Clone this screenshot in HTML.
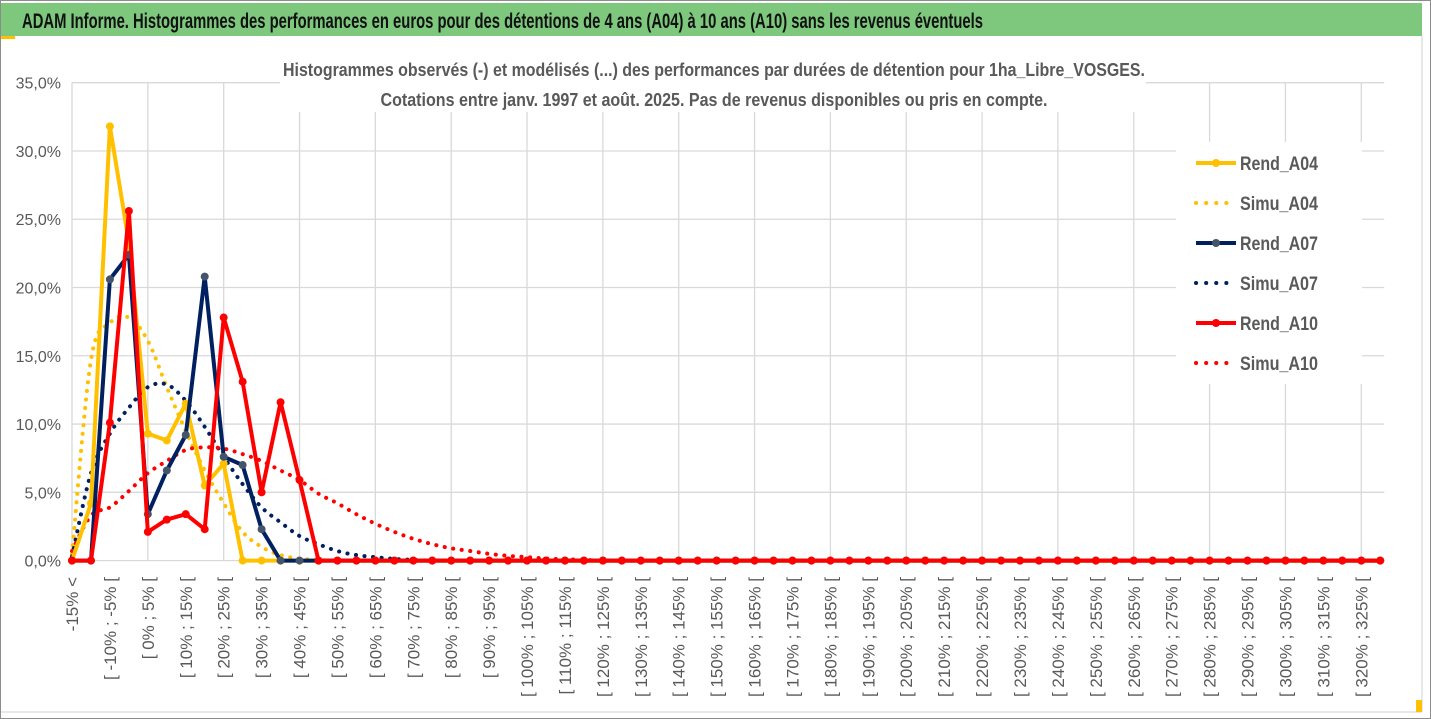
<!DOCTYPE html>
<html><head><meta charset="utf-8"><style>
html,body{margin:0;padding:0;background:#fff;}
svg{display:block;font-family:"Liberation Sans Narrow","Liberation Sans",sans-serif;}
</style></head><body>
<svg id="chart" width="1431" height="719" viewBox="0 0 1431 719">
  <rect x="0.5" y="0.5" width="1430" height="718" fill="#fff" stroke="#8c8c8c"/>
  <rect x="1" y="3" width="1421" height="33" fill="#7dc87d"/>
  <rect x="1" y="36" width="14" height="3" fill="#ffc000"/>
  <line x1="1422" y1="36" x2="1422" y2="712" stroke="#d0d0d0"/>
  <line x1="1" y1="712" x2="1422" y2="712" stroke="#d0d0d0"/>
  <rect x="1416" y="700" width="6" height="12" fill="#ffc000"/>
  <text x="22" y="28" font-size="21" font-weight="bold" fill="#111" textLength="961" lengthAdjust="spacingAndGlyphs">ADAM Informe. Histogrammes des performances en euros pour des détentions de 4 ans (A04) à 10 ans (A10) sans les revenus éventuels</text>
  <g id="grid"></g>
  <g id="yaxis"></g>
  <g id="xaxis"></g>
  <g id="series"></g>
  <rect x="280" y="56" width="866" height="56" fill="#fff"/>
  <text x="714" y="76" text-anchor="middle" font-size="18" font-weight="bold" fill="#595959" textLength="862" lengthAdjust="spacingAndGlyphs">Histogrammes observés (-) et modélisés (...) des performances par durées de détention pour 1ha_Libre_VOSGES.</text>
  <text x="714" y="106" text-anchor="middle" font-size="18" font-weight="bold" fill="#595959" textLength="667" lengthAdjust="spacingAndGlyphs">Cotations entre janv. 1997 et août. 2025. Pas de revenus disponibles ou pris en compte.</text>
  <g id="legend"></g>
</svg>
<script>
const categories = ["-15% <"];
for (let a = -15; a < 330; a += 5) categories.push("[ " + a + "% ; " + (a + 5) + "% [");
const yTicks = [0,5,10,15,20,25,30,35];
const yTickLabels = ["0,0%","5,0%","10,0%","15,0%","20,0%","25,0%","30,0%","35,0%"];
const rendA04 = [0,4.2,31.8,23.3,9.3,8.8,11.5,5.5,7.1,0];
const simuA04 = [0.5,14.7,17.4,17.8,16.1,12.7,9.5,6.6,4.2,2.1,1.0,0.4,0.15,0.05];
const rendA07 = [0,0,20.6,22.4,3.4,6.6,9.2,20.8,7.6,7.0,2.3,0,0];
const simuA07 = [0.3,6.4,9.3,11.2,12.7,12.9,11.7,9.8,7.6,5.6,3.9,2.8,1.8,1.2,0.7,0.4,0.25,0.12,0.05];
const rendA10 = [0,0,10.1,25.6,2.1,3.0,3.4,2.3,17.8,13.1,5.0,11.6,5.9,0];
const simuA10 = [0.7,3.3,3.9,5.1,6.4,7.3,8.1,8.3,8.2,7.8,7.3,6.6,5.9,4.9,4.2,3.4,2.7,2.1,1.6,1.2,0.9,0.7,0.5,0.35,0.25,0.15,0.1,0.05];

const NS = "http://www.w3.org/2000/svg";
const X0 = 72, STEP = 18.96, Y0 = 560.6, YTOP = 82.7, YMAX = 35;
const xs = i => X0 + i * STEP;
const ys = v => Y0 - (v / YMAX) * (Y0 - YTOP);
const N = categories.length;
const XR = xs(N - 1) + 4;
function mk(tag, attrs, parent) {
  const e = document.createElementNS(NS, tag);
  for (const k in attrs) e.setAttribute(k, attrs[k]);
  parent.appendChild(e);
  return e;
}
const full = arr => { const o = []; for (let i = 0; i < N; i++) o.push(i < arr.length ? arr[i] : 0); return o; };

const grid = document.getElementById('grid');
yTicks.forEach((t) => {
  const l = mk('line', {x1: X0, x2: XR, y1: ys(t), y2: ys(t), stroke: '#d9d9d9', 'stroke-width': 1.3}, grid);
  
  
});
for (let i = 0; i < N; i += 4) {
  const l = mk('line', {x1: xs(i), x2: xs(i), y1: YTOP, y2: Y0, stroke: '#d9d9d9', 'stroke-width': 1.3}, grid);
  
  
}
const yaxis = document.getElementById('yaxis');
yTicks.forEach((t, i) => {
  const tx = mk('text', {x: 61, y: ys(t) + 6, 'text-anchor': 'end', 'font-size': 16, fill: '#595959'}, yaxis);
  tx.textContent = yTickLabels[i];
  
  
});
const xaxis = document.getElementById('xaxis');
for (let i = 0; i < N; i += 2) {
  const x = xs(i) + 6, y = 577;
  const tx = mk('text', {x: x, y: y, 'text-anchor': 'end', 'font-size': 17, fill: '#595959', transform: `rotate(-90 ${x} ${y})`}, xaxis);
  tx.textContent = categories[i];
  
  
}

const ser = document.getElementById('series');
function pts(arr) { return full(arr).map((v, i) => xs(i).toFixed(1) + ',' + ys(v).toFixed(1)).join(' '); }
function smoothPath(arr) {
  const p = full(arr).map((v, i) => [xs(i), ys(v)]);
  let d = 'M' + p[0][0].toFixed(1) + ',' + p[0][1].toFixed(1);
  for (let i = 0; i < p.length - 1; i++) {
    const p0 = p[Math.max(0, i - 1)], p1 = p[i], p2 = p[i + 1], p3 = p[Math.min(p.length - 1, i + 2)];
    const c1 = [p1[0] + (p2[0] - p0[0]) / 6, p1[1] + (p2[1] - p0[1]) / 6];
    const c2 = [p2[0] - (p3[0] - p1[0]) / 6, p2[1] - (p3[1] - p1[1]) / 6];
    d += ' C' + c1[0].toFixed(1) + ',' + c1[1].toFixed(1) + ' ' + c2[0].toFixed(1) + ',' + c2[1].toFixed(1) + ' ' + p2[0].toFixed(1) + ',' + p2[1].toFixed(1);
  }
  return d;
}
function dotted(arr, color, name) {
  const p = mk('path', {d: smoothPath(arr), fill: 'none', stroke: color, 'stroke-width': 4, 'stroke-dasharray': '0.1 8.5', 'stroke-linecap': 'round'}, ser);
  
  
}
function solid(arr, color, mcol, name) {
  const p = mk('polyline', {points: pts(arr), fill: 'none', stroke: color, 'stroke-width': 4, 'stroke-linejoin': 'round'}, ser);
  
  
  full(arr).forEach((v, i) => {
    const c = mk('circle', {cx: xs(i), cy: ys(v), r: 4, fill: mcol}, ser);
    
    
  });
}
dotted(simuA04, '#ffc000', 'simu-a04-line');
dotted(simuA07, '#002060', 'simu-a07-line');
dotted(simuA10, '#ff0000', 'simu-a10-line');
solid(rendA04, '#ffc000', '#ffc000', 'rend-a04-line');
solid(rendA07, '#002060', '#44546a', 'rend-a07-line');
solid(rendA10, '#ff0000', '#ff0000', 'rend-a10-line');

const leg = document.getElementById('legend');
const bg = mk('rect', {x: 1176, y: 142, width: 186, height: 242, fill: '#fff'}, leg);


const entries = [
  ['Rend_A04', '#ffc000', '#ffc000', false],
  ['Simu_A04', '#ffc000', null, true],
  ['Rend_A07', '#002060', '#44546a', false],
  ['Simu_A07', '#002060', null, true],
  ['Rend_A10', '#ff0000', '#ff0000', false],
  ['Simu_A10', '#ff0000', null, true]
];
entries.forEach((e, k) => {
  const y = 163 + k * 40;
  const g = mk('g', {}, leg);
  
  
  if (e[3]) {
    mk('line', {x1: 1196, x2: 1236, y1: y, y2: y, stroke: e[1], 'stroke-width': 4, 'stroke-dasharray': '0.1 10', 'stroke-linecap': 'round'}, g);
  } else {
    mk('line', {x1: 1196, x2: 1236, y1: y, y2: y, stroke: e[1], 'stroke-width': 4}, g);
    mk('circle', {cx: 1216, cy: y, r: 4, fill: e[2]}, g);
  }
  const t = mk('text', {x: 1240, y: y + 7, 'font-size': 19, 'font-weight': 'bold', fill: '#595959', textLength: 78, lengthAdjust: 'spacingAndGlyphs'}, g);
  t.textContent = e[0];
});
</script>
</body></html>
